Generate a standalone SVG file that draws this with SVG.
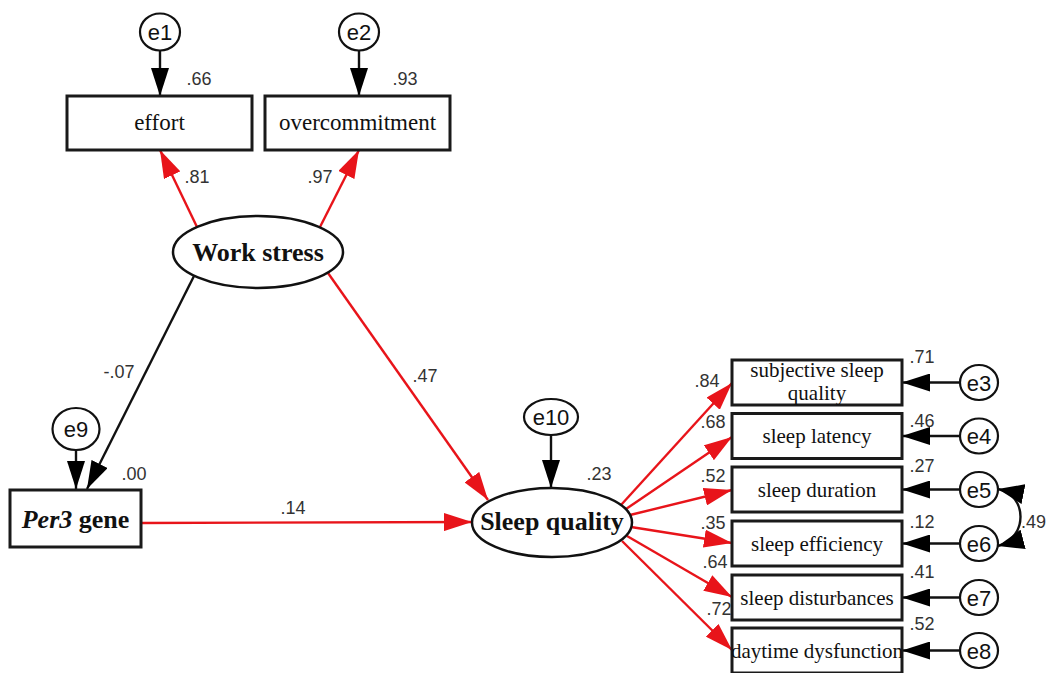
<svg xmlns="http://www.w3.org/2000/svg" width="1049" height="673" viewBox="0 0 1049 673">
<style>
.bx{fill:#fff;stroke:#1a1a1a;stroke-width:3}
.el{fill:#fff;stroke:#111;stroke-width:2.5}
.er{fill:#fff;stroke:#111;stroke-width:2.2}
.lb{font-family:"Liberation Serif",serif;fill:#111;text-anchor:middle}
.tl{font-size:23px}
.rl{font-size:21px}
.bd{font-family:"Liberation Serif",serif;font-weight:bold;font-size:26px;fill:#111;text-anchor:middle}
.et{font-family:"Liberation Sans",Arial,sans-serif;font-size:22px;fill:#111;text-anchor:middle}
.nm{font-family:"Liberation Sans",Arial,sans-serif;font-size:18px;fill:#333;text-anchor:middle}
.rd{stroke:#e8141a;stroke-width:2.4;fill:none}
.bk{stroke:#111;stroke-width:2.4;fill:none}
</style>
<defs>
<marker id="ab" viewBox="0 0 28 18" refX="28" refY="9" markerWidth="28" markerHeight="18" markerUnits="userSpaceOnUse" orient="auto"><path d="M0,0 L28,9 L0,18 z" fill="#000"/></marker>
<marker id="ar" viewBox="0 0 28 18" refX="28" refY="9" markerWidth="28" markerHeight="18" markerUnits="userSpaceOnUse" orient="auto"><path d="M0,0 L28,9 L0,18 z" fill="#e8141a"/></marker>
<marker id="ac" viewBox="0 0 26 20" refX="26" refY="10" markerWidth="26" markerHeight="20" markerUnits="userSpaceOnUse" orient="auto-start-reverse"><path d="M0,0 L26,10 L0,20 z" fill="#000"/></marker>
</defs>
<g id="connectors">
<line class="bk" x1="160" y1="51" x2="160" y2="96" marker-end="url(#ab)"/>
<line class="bk" x1="359" y1="51" x2="359" y2="96" marker-end="url(#ab)"/>
<line class="rd" x1="197" y1="227" x2="160" y2="150" marker-end="url(#ar)"/>
<line class="rd" x1="320" y1="227" x2="359" y2="150" marker-end="url(#ar)"/>
<line class="bk" x1="194" y1="276" x2="87" y2="489" marker-end="url(#ab)"/>
<line class="bk" x1="76" y1="450" x2="76" y2="489" marker-end="url(#ab)"/>
<line class="rd" x1="328" y1="273" x2="488" y2="500" marker-end="url(#ar)"/>
<line class="rd" x1="141" y1="523" x2="472" y2="522" marker-end="url(#ar)"/>
<line class="bk" x1="551" y1="435" x2="551" y2="488" marker-end="url(#ab)"/>
<line class="rd" x1="621" y1="505" x2="732" y2="383" marker-end="url(#ar)"/>
<line class="rd" x1="626" y1="509" x2="732" y2="437" marker-end="url(#ar)"/>
<line class="rd" x1="630" y1="515" x2="732" y2="490" marker-end="url(#ar)"/>
<line class="rd" x1="631" y1="527" x2="732" y2="543" marker-end="url(#ar)"/>
<line class="rd" x1="627" y1="536" x2="732" y2="597" marker-end="url(#ar)"/>
<line class="rd" x1="622" y1="541" x2="732" y2="650" marker-end="url(#ar)"/>
<line class="bk" x1="960" y1="382.5" x2="902" y2="382.5" marker-end="url(#ab)"/>
<line class="bk" x1="960" y1="436" x2="902" y2="436" marker-end="url(#ab)"/>
<line class="bk" x1="960" y1="489.5" x2="902" y2="489.5" marker-end="url(#ab)"/>
<line class="bk" x1="960" y1="543.5" x2="902" y2="543.5" marker-end="url(#ab)"/>
<line class="bk" x1="960" y1="597.5" x2="902" y2="597.5" marker-end="url(#ab)"/>
<line class="bk" x1="960" y1="650.5" x2="902" y2="650.5" marker-end="url(#ab)"/>
<path class="bk" d="M998,489 C1028,495 1028,538 998,546" marker-start="url(#ac)" marker-end="url(#ac)"/>
</g>
<g id="e1"><ellipse class="er" cx="160" cy="32" rx="20" ry="18.5"/><text class="et" x="160" y="40">e1</text></g>
<g id="e2"><ellipse class="er" cx="359" cy="32" rx="20" ry="18.5"/><text class="et" x="359" y="40">e2</text></g>
<g id="effort"><rect class="bx" x="67" y="96" width="185" height="54"/><text class="lb tl" x="159.5" y="130">effort</text></g>
<g id="overcommitment"><rect class="bx" x="265" y="96" width="185" height="54"/><text class="lb tl" x="357.5" y="130">overcommitment</text></g>
<g id="work-stress"><ellipse class="el" cx="258" cy="252" rx="85" ry="36"/><text class="bd" x="258" y="261">Work stress</text></g>
<g id="e9"><ellipse class="er" cx="76" cy="429" rx="23.5" ry="21"/><text class="et" x="76" y="437">e9</text></g>
<g id="per3"><rect class="bx" x="10" y="490" width="131" height="57"/><text class="bd" x="75.5" y="528"><tspan font-style="italic">Per3</tspan> gene</text></g>
<g id="e10"><ellipse class="er" cx="551" cy="417" rx="27" ry="18"/><text class="et" x="551" y="425">e10</text></g>
<g id="sleep-quality"><ellipse class="el" cx="552" cy="522.5" rx="80" ry="34.5"/><text class="bd" x="552" y="530">Sleep quality</text></g>
<g id="subjective"><rect class="bx" x="732" y="360" width="170" height="45"/><text class="lb rl" x="817" y="377">subjective sleep</text><text class="lb rl" x="817" y="400">quality</text></g>
<g id="latency"><rect class="bx" x="732" y="413.5" width="170" height="45"/><text class="lb rl" x="817" y="443">sleep latency</text></g>
<g id="duration"><rect class="bx" x="732" y="467" width="170" height="45"/><text class="lb rl" x="817" y="497">sleep duration</text></g>
<g id="efficiency"><rect class="bx" x="732" y="521" width="170" height="45"/><text class="lb rl" x="817" y="551">sleep efficiency</text></g>
<g id="disturbances"><rect class="bx" x="732" y="575" width="170" height="45"/><text class="lb rl" x="817" y="605">sleep disturbances</text></g>
<g id="daytime"><rect class="bx" x="732" y="628" width="170" height="45"/><text class="lb rl" x="817" y="658">daytime dysfunction</text></g>
<g id="e3"><ellipse class="er" cx="979" cy="382.5" rx="19" ry="17.5"/><text class="et" x="979" y="390.5">e3</text></g>
<g id="e4"><ellipse class="er" cx="979" cy="436" rx="19" ry="17.5"/><text class="et" x="979" y="444">e4</text></g>
<g id="e5"><ellipse class="er" cx="979" cy="489.5" rx="19" ry="17.5"/><text class="et" x="979" y="497.5">e5</text></g>
<g id="e6"><ellipse class="er" cx="979" cy="543.5" rx="19" ry="17.5"/><text class="et" x="979" y="551.5">e6</text></g>
<g id="e7"><ellipse class="er" cx="979" cy="597.5" rx="19" ry="17.5"/><text class="et" x="979" y="605.5">e7</text></g>
<g id="e8"><ellipse class="er" cx="979" cy="650.5" rx="19" ry="17.5"/><text class="et" x="979" y="658.5">e8</text></g>
<g id="labels">
<text class="nm" x="199" y="85">.66</text>
<text class="nm" x="405" y="85">.93</text>
<text class="nm" x="197" y="183">.81</text>
<text class="nm" x="320" y="183">.97</text>
<text class="nm" x="119" y="378">-.07</text>
<text class="nm" x="425" y="382">.47</text>
<text class="nm" x="134" y="480">.00</text>
<text class="nm" x="293" y="514">.14</text>
<text class="nm" x="599" y="480">.23</text>
<text class="nm" x="707" y="387">.84</text>
<text class="nm" x="713" y="428">.68</text>
<text class="nm" x="713" y="482">.52</text>
<text class="nm" x="713" y="529">.35</text>
<text class="nm" x="715" y="568">.64</text>
<text class="nm" x="719" y="615">.72</text>
<text class="nm" x="922" y="363">.71</text>
<text class="nm" x="922" y="427">.46</text>
<text class="nm" x="922" y="472">.27</text>
<text class="nm" x="922" y="528">.12</text>
<text class="nm" x="922" y="578">.41</text>
<text class="nm" x="922" y="630">.52</text>
<text class="nm" x="1021" y="528" style="text-anchor:start">.49</text>
</g>
</svg>
